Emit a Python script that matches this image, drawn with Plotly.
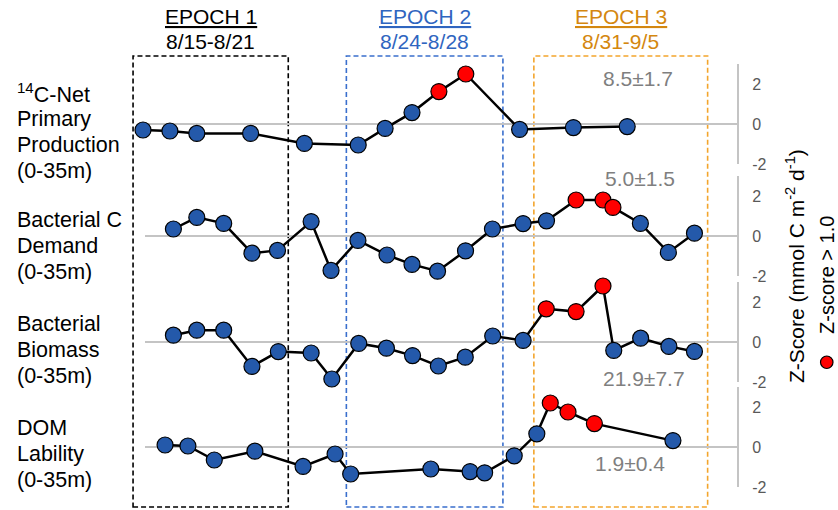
import plotly.graph_objects as go

W, H = 838, 510

# ---------------- data (day of August; 32 = Sep 1) ----------------
days_npp = [15, 16, 17, 19, 21, 23, 24, 25, 26, 27, 29, 31, 33]
z_npp = [-0.3, -0.35, -0.47, -0.47, -0.97, -1.05, -0.22, 0.57, 1.62, 2.5, -0.27, -0.18, -0.13]

days_bcd = [16.13, 17.0, 18.0, 19.05, 20.0, 21.25, 21.99, 22.99, 24.07, 25.0, 25.95,
            26.99, 27.99, 29.13, 30.0, 31.1, 32.1, 32.47, 33.49, 34.53, 35.5]
z_bcd = [0.35, 0.93, 0.63, -0.86, -0.72, 0.72, -1.72, -0.22, -0.95, -1.42, -1.76,
         -0.74, 0.35, 0.62, 0.76, 1.8, 1.8, 1.43, 0.63, -0.82, 0.14]

days_bb = [16.13, 17.0, 18.0, 19.05, 20.03, 21.25, 22.02, 23.02, 24.05, 25.02, 25.98,
           26.98, 28.0, 29.13, 29.99, 31.1, 32.1, 32.5, 33.5, 34.55, 35.5]
z_bb = [0.34, 0.59, 0.59, -1.22, -0.48, -0.55, -1.85, -0.07, -0.31, -0.68, -1.2,
        -0.76, 0.3, 0.08, 1.66, 1.52, 2.8, -0.42, 0.19, -0.22, -0.47]

days_dom = [15.82, 16.67, 17.65, 19.16, 20.95, 22.14, 22.72, 25.7, 27.16, 27.7, 28.8,
            29.64, 30.14, 30.8, 31.78, 34.7]
z_dom = [0.1, 0.05, -0.65, -0.21, -0.97, -0.35, -1.35, -1.1, -1.23, -1.29, -0.44,
         0.66, 2.2, 1.75, 1.17, 0.32]

panel_labels = [
    ["<sup>14</sup>C-Net", "Primary", "Production", "(0-35m)"],
    ["Bacterial C", "Demand", "(0-35m)"],
    ["Bacterial", "Biomass", "(0-35m)"],
    ["DOM", "Lability", "(0-35m)"],
]
panel_stats = ["8.5±1.7", "5.0±1.5", "21.9±7.7", "1.9±0.4"]

epoch_titles = ["EPOCH 1", "EPOCH 2", "EPOCH 3"]
epoch_dates = ["8/15-8/21", "8/24-8/28", "8/31-9/5"]
epoch_box_days = [(14.63, 20.40), (22.56, 28.38), (29.53, 35.99)]

y_ticks = [-2, 0, 2]
threshold = 1.0

# ---------------- styling / layout ----------------
BLUE = "#2459AA"
RED = "#FF0000"
GRAY_AX = "#C4C4C4"
TXT_GRAY = "#7F7F7F"
epoch_text_colors = ["#000000", "#2F65C0", "#D4870F"]
epoch_box_colors = ["#000000", "#3A6FCD", "#F3A52C"]
FONT = "Liberation Sans, Arial, sans-serif"

PX_PER_DAY = 26.9
DAY0_PX = 143.0  # pixel of day 15
XD0, XD1 = 120, 737
ZL0 = 145  # where zero reference lines start


def day_at(p):
    return 15 + (p - DAY0_PX) / PX_PER_DAY


xrange_ = [day_at(XD0), day_at(XD1)]
zero_px = [124, 236, 342, 447]


def py(p):
    return 1 - p / H


def px(p):
    return p / W


series = [(days_npp, z_npp), (days_bcd, z_bcd), (days_bb, z_bb), (days_dom, z_dom)]

fig = go.Figure()
layout = dict(
    width=W, height=H, margin=dict(l=0, r=0, t=0, b=0, autoexpand=False),
    paper_bgcolor="white", plot_bgcolor="white", showlegend=False,
    font=dict(family=FONT, color="black"),
)
shapes = []

for i, (xs, zs) in enumerate(series):
    k = "" if i == 0 else str(i + 1)
    colors = [RED if z > threshold else BLUE for z in zs]
    fig.add_trace(go.Scatter(
        x=xs, y=zs, xaxis="x" + k, yaxis="y" + k, mode="lines+markers",
        line=dict(color="black", width=2.5),
        marker=dict(size=16, color=colors, line=dict(color="black", width=1.2)),
        cliponaxis=False, hoverinfo="skip",
    ))
    z0 = zero_px[i]
    layout["xaxis" + k] = dict(domain=[px(XD0), px(XD1)], range=xrange_, visible=False,
                               anchor="y" + k, automargin=False)
    layout["yaxis" + k] = dict(
        domain=[py(z0 + 40), py(z0 - 60)], range=[-2, 3], anchor="x" + k, side="right",
        showline=True, linecolor=GRAY_AX, linewidth=2, showgrid=False,
        zeroline=False, automargin=False,
        tickvals=y_ticks, ticktext=[str(t) for t in y_ticks], ticks="",
        ticklabelstandoff=10, tickfont=dict(size=16, color="#595959", family=FONT),
    )
    shapes.append(dict(type="line", xref="x" + k, yref="y" + k,
                       x0=day_at(ZL0), x1=day_at(XD1), y0=0, y1=0,
                       line=dict(color=GRAY_AX, width=2), layer="below"))

annotations = []
# left labels
label_centers = [132, 246, 350, 454]
LINE_GAP = 26
for lab, cy in zip(panel_labels, label_centers):
    n = len(lab)
    for j, line in enumerate(lab):
        yy = cy + (j - (n - 1) / 2) * LINE_GAP
        annotations.append(dict(x=px(15), y=py(yy), xref="paper", yref="paper",
                                xanchor="left", yanchor="middle", showarrow=False,
                                text=line, font=dict(size=21.5, color="black")))
# stats
stat_pos = [(638, 78), (640, 178), (644, 378), (630, 463)]
for s, (sx, sy) in zip(panel_stats, stat_pos):
    annotations.append(dict(x=px(sx), y=py(sy), xref="paper", yref="paper",
                            xanchor="center", yanchor="middle", showarrow=False,
                            text=s, font=dict(size=21, color=TXT_GRAY)))
# epoch headers
for t, d, (b0, b1), tc, bc in zip(epoch_titles, epoch_dates, epoch_box_days,
                                  epoch_text_colors, epoch_box_colors):
    xm = (b0 + b1) / 2
    annotations.append(dict(x=xm, y=py(17), xref="x", yref="paper", xanchor="center",
                            yanchor="middle", showarrow=False, text="<u>" + t + "</u>",
                            font=dict(size=21, color=tc)))
    annotations.append(dict(x=xm, y=py(41), xref="x", yref="paper", xanchor="center",
                            yanchor="middle", showarrow=False, text=d,
                            font=dict(size=21, color=tc)))
    shapes.append(dict(type="rect", xref="x", yref="paper", x0=b0, x1=b1,
                       y0=py(507), y1=py(56), line=dict(color=bc, width=1.6, dash="5px,3px"),
                       layer="below"))

# right axis title and legend
annotations.append(dict(x=px(795), y=py(266), xref="paper", yref="paper",
                        xanchor="center", yanchor="middle", showarrow=False, textangle=-90,
                        text="Z-Score (mmol C m<sup>-2</sup> d<sup>-1</sup>)",
                        font=dict(size=21, color="black")))
annotations.append(dict(x=px(827), y=py(275), xref="paper", yref="paper",
                        xanchor="center", yanchor="middle", showarrow=False, textangle=-90,
                        text="Z-score > 1.0", font=dict(size=20, color="black")))
shapes.append(dict(type="circle", xref="paper", yref="paper",
                   x0=px(820.5), x1=px(833), y0=py(368.5), y1=py(356),
                   fillcolor=RED, line=dict(color="black", width=1.2)))

layout["annotations"] = annotations
layout["shapes"] = shapes
fig.update_layout(**layout)
fig.write_html(
    "out.html",
    config={"displayModeBar": False, "staticPlot": True},
    post_script="document.body.style.margin='0';document.body.style.padding='0';"
                "document.body.style.overflow='hidden';",
)
